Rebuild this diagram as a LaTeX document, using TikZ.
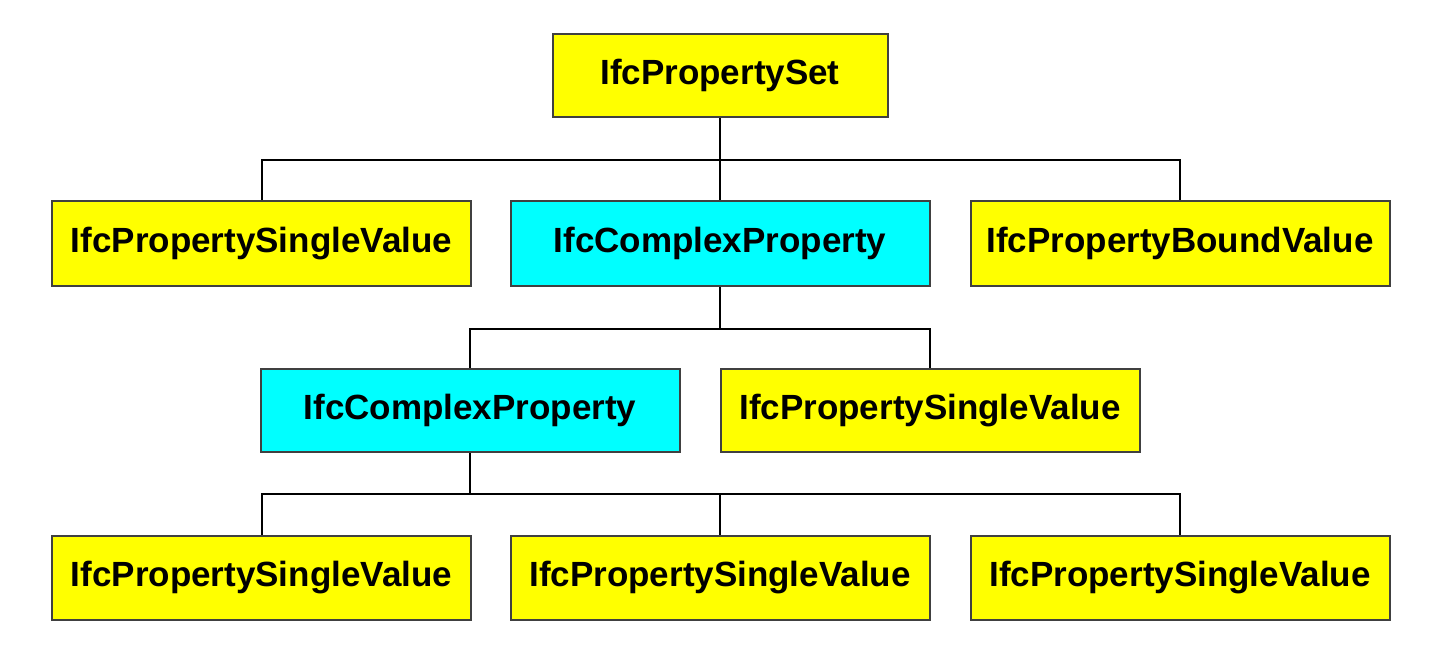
\documentclass[tikz,border=0pt]{standalone}
\usepackage{fontspec}
\setmainfont{Liberation Sans}
\usepackage{tikz}
\definecolor{ifcyellow}{RGB}{255,255,0}
\definecolor{ifccyan}{RGB}{0,255,255}

\begin{document}
\begin{tikzpicture}[x=0.5pt,y=-0.5pt,
   cls/.style n args={3}{fill=#1,draw=black!75,line width=1pt,minimum width=#2*0.5pt,minimum height=#3*0.5pt,inner sep=0pt,text=black,font=\fontsize{17.5}{21}\selectfont\bfseries},
   link/.style={draw=black,line width=1pt}]
\useasboundingbox (0,0) rectangle (1441,661);
\node[cls={ifcyellow}{335}{83}] (pset) at (720,75.5) {IfcPropertySet};
\node[cls={ifcyellow}{419}{85}] (single1) at (261.5,243.5) {IfcPropertySingleValue};
\node[cls={ifccyan}{419}{85}] (complex1) at (720,243.5) {IfcComplexProperty};
\node[cls={ifcyellow}{419}{85}] (bound) at (1180,243.5) {IfcPropertyBoundValue};
\node[cls={ifccyan}{419}{83}] (complex2) at (470,410.5) {IfcComplexProperty};
\node[cls={ifcyellow}{419}{83}] (single2) at (930,410.5) {IfcPropertySingleValue};
\foreach \n/\x in %
{3/261.5,4/720,5/1180} {
   \node[cls={ifcyellow}{419}{84}] (single\n) at (\x,578) {IfcPropertySingleValue};
}
\draw[link] (pset.south) -- ++(0,42) -| (single1.north);
\draw[link] (pset.south) -- (complex1.north);
\draw[link] (pset.south) -- ++(0,42) -| (bound.north);
\draw[link] (complex1.south) -- ++(0,42) -| (complex2.north);
\draw[link] (complex1.south) -- ++(0,42) -| (single2.north);
\foreach \n in {3,4,5} {
   \draw[link] (complex2.south) -- ++(0,41) -| (single\n.north);
}
\end{tikzpicture}
\end{document}
